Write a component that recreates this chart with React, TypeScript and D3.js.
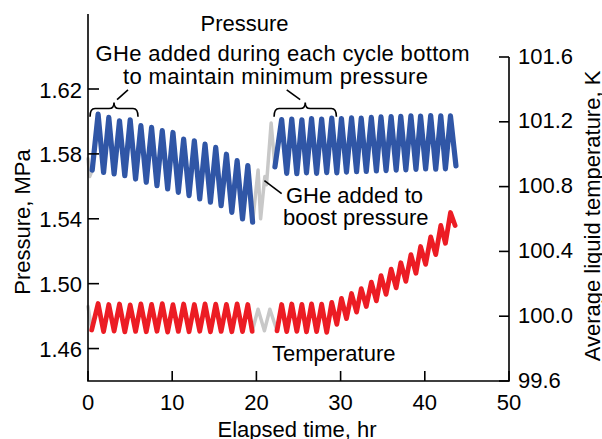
import React from "react";
import * as d3 from "d3";

// ---- Data ----
const timeTicks = [0, 10, 20, 30, 40, 50];
const pressureTicks = [1.46, 1.5, 1.54, 1.58, 1.62];
const tempTicks = [99.6, 100.0, 100.4, 100.8, 101.2, 101.6];

// Pressure, MPa: [elapsed hr, value]
const pressureGrayA: [number, number][] = [[0, 1.577], [0.2, 1.566], [0.5, 1.57]];
const pressureBlueA: [number, number][] = [
  [0.5, 1.57], [1.2, 1.6045], [1.85, 1.5686], [2.47, 1.6025], [3.1, 1.5676], [3.74, 1.6004],
  [4.37, 1.5666], [5.01, 1.601], [5.65, 1.5645], [6.28, 1.5974], [6.92, 1.5625], [7.55, 1.5963],
  [8.19, 1.5604], [8.82, 1.5943], [9.46, 1.5584], [10.09, 1.5932], [10.73, 1.5563], [11.36, 1.5891],
  [12.0, 1.5543], [12.63, 1.5881], [13.27, 1.5522], [13.9, 1.586], [14.54, 1.5502], [15.17, 1.584],
  [15.81, 1.5481], [16.44, 1.5798], [17.08, 1.544], [17.71, 1.5758], [18.35, 1.5399], [18.98, 1.5728],
  [19.55, 1.5379],
];
const pressureGrayB: [number, number][] = [
  [19.55, 1.5379], [20.2, 1.57], [20.5, 1.54], [21.0, 1.566], [21.2, 1.561], [21.75, 1.599], [22.2, 1.572],
];
const pressureBlueB: [number, number][] = [
  [22.2, 1.572], [23.0, 1.6012], [23.6, 1.568], [24.2, 1.6015], [24.8, 1.5678], [25.4, 1.601],
  [25.95, 1.5683], [26.55, 1.6018], [27.15, 1.568], [27.75, 1.6015], [28.35, 1.5685], [28.95, 1.602],
  [29.55, 1.5683], [30.1, 1.6018], [30.7, 1.5688], [31.3, 1.6022], [31.9, 1.569], [32.45, 1.602],
  [33.05, 1.5692], [33.65, 1.6025], [34.25, 1.5695], [34.8, 1.6028], [35.4, 1.5697], [36.0, 1.603],
  [36.6, 1.57], [37.15, 1.6032], [37.75, 1.5702], [38.35, 1.6035], [38.95, 1.5705], [39.5, 1.6033],
  [40.1, 1.5707], [40.7, 1.6036], [41.3, 1.5706], [41.9, 1.6035], [42.45, 1.5708], [43.05, 1.6034],
  [43.7, 1.5726],
];

// Average liquid temperature, K: [elapsed hr, value]
const tempGrayA: [number, number][] = [[0, 100.06], [0.44, 99.915]];
const tempRedA: [number, number][] = [
  [0.44, 99.915], [1.2, 100.078], [1.85, 99.905], [2.47, 100.072], [3.1, 99.908], [3.74, 100.075],
  [4.37, 99.903], [5.01, 100.07], [5.65, 99.906], [6.28, 100.076], [6.92, 99.904], [7.55, 100.073],
  [8.19, 99.907], [8.82, 100.077], [9.46, 99.902], [10.09, 100.071], [10.73, 99.906], [11.36, 100.075],
  [12.0, 99.904], [12.63, 100.072], [13.27, 99.907], [13.9, 100.076], [14.54, 99.903], [15.17, 100.074],
  [15.81, 99.906], [16.44, 100.073], [17.08, 99.904], [17.71, 100.076], [18.35, 99.905], [18.98, 100.072],
  [19.5, 99.907],
];
const tempGrayB: [number, number][] = [
  [19.5, 99.907], [20.2, 100.043], [20.95, 99.91], [21.6, 100.043], [22.45, 99.91],
];
const tempRedB: [number, number][] = [
  [22.45, 99.91], [23.0, 100.072], [23.6, 99.905], [24.2, 100.075], [24.8, 99.906], [25.4, 100.073],
  [25.95, 99.903], [26.55, 100.076], [27.15, 99.905], [27.75, 100.074], [28.35, 99.9], [28.95, 100.085],
  [29.55, 99.95], [30.1, 100.11], [30.7, 99.985], [31.3, 100.14], [31.9, 100.025], [32.45, 100.17],
  [33.05, 100.06], [33.65, 100.21], [34.25, 100.095], [34.8, 100.25], [35.4, 100.135], [36.0, 100.29],
  [36.6, 100.175], [37.15, 100.33], [37.75, 100.215], [38.35, 100.38], [38.95, 100.265], [39.5, 100.43],
  [40.1, 100.32], [40.7, 100.49], [41.3, 100.38], [41.9, 100.56], [42.45, 100.45], [43.05, 100.64],
  [43.6, 100.56],
];

// Annotation anchors (hr)
const braceSpans: [number, number][] = [[0.24, 5.94], [22.1, 29.5]];

const W = 602;
const H = 439;
const FONT = "'Liberation Sans', Arial, Helvetica, sans-serif";
const FS = 22;
const BLUE = "#3056a6";
const RED = "#ec1c24";
const GRAY = "#c8c8c8";

export default function App() {
  const x = d3.scaleLinear().domain([0, 50]).range([88, 509]);
  const yP = d3.scaleLinear().domain([1.44, 1.62]).range([381, 89]);
  const yT = d3.scaleLinear().domain([99.6, 101.6]).range([381, 57]);

  const lineP = d3.line<[number, number]>().x((d) => x(d[0])).y((d) => yP(d[1]));
  const lineT = d3.line<[number, number]>().x((d) => x(d[0])).y((d) => yT(d[1]));

  const fmtP = d3.format(".2f");
  const fmtT = d3.format(".1f");

  const brace = (t1: number, t2: number) => {
    const x1 = x(t1), x2 = x(t2), xc = (x1 + x2) / 2;
    const yb = yP(1.6029), ym = yP(1.608), yt = yP(1.6117);
    const r = 5;
    return `M${x1},${yb} Q${x1},${ym} ${x1 + r},${ym} L${xc - r},${ym} Q${xc},${ym} ${xc},${yt} Q${xc},${ym} ${xc + r},${ym} L${x2 - r},${ym} Q${x2},${ym} ${x2},${yb}`;
  };

  const xAxisY = yP(1.44);
  const leftTop = 14;
  const rightTop = yT(101.6);

  return (
    <svg width={W} height={H} style={{ position: "absolute", left: 0, top: 0, background: "#fff" }} fontFamily={FONT}>
      {/* data lines */}
      <g fill="none" strokeLinejoin="round" strokeLinecap="round">
        <path d={lineP(pressureGrayA) || ""} stroke={GRAY} strokeWidth={3.5} />
        <path d={lineP(pressureGrayB) || ""} stroke={GRAY} strokeWidth={3.5} />
        <path d={lineT(tempGrayA) || ""} stroke={GRAY} strokeWidth={3.5} />
        <path d={lineT(tempGrayB) || ""} stroke={GRAY} strokeWidth={3.5} />
        <path d={lineP(pressureBlueA) || ""} stroke={BLUE} strokeWidth={5.2} />
        <path d={lineP(pressureBlueB) || ""} stroke={BLUE} strokeWidth={5.2} />
        <path d={lineT(tempRedA) || ""} stroke={RED} strokeWidth={4.8} />
        <path d={lineT(tempRedB) || ""} stroke={RED} strokeWidth={4.8} />
      </g>

      {/* axes */}
      <g stroke="#000" strokeWidth={1.6} fill="none">
        <path d={`M${x(0)},${leftTop} V${xAxisY} H${x(50)} V${rightTop}`} />
        {pressureTicks.map((v) => (
          <line key={"pt" + v} x1={x(0)} x2={x(0) + 11} y1={yP(v)} y2={yP(v)} />
        ))}
        {tempTicks.map((v) => (
          <line key={"tt" + v} x1={x(50) - 10} x2={x(50)} y1={yT(v)} y2={yT(v)} />
        ))}
        {timeTicks.map((v) => (
          <line key={"xt" + v} x1={x(v)} x2={x(v)} y1={xAxisY} y2={xAxisY - 10} />
        ))}
      </g>

      {/* tick labels */}
      <g fontSize={FS} fill="#000">
        {pressureTicks.map((v) => (
          <text key={"pl" + v} x={x(0) - 6} y={yP(v) + 1} textAnchor="end" dominantBaseline="central">
            {fmtP(v)}
          </text>
        ))}
        {tempTicks.map((v) => (
          <text key={"tl" + v} x={x(50) + 9} y={yT(v) - 1} textAnchor="start" dominantBaseline="central">
            {fmtT(v)}
          </text>
        ))}
        {timeTicks.map((v) => (
          <text key={"xl" + v} x={x(v)} y={410} textAnchor="middle">
            {v}
          </text>
        ))}
      </g>

      {/* axis titles */}
      <g fontSize={FS} fill="#000">
        <text x={297} y={437} textAnchor="middle">Elapsed time, hr</text>
        <text transform={`translate(30,222) rotate(-90)`} textAnchor="middle">Pressure, MPa</text>
        <text transform={`translate(600,216) rotate(-90)`} textAnchor="middle">Average liquid temperature, K</text>
      </g>

      {/* annotations */}
      <g fontSize={FS} fill="#000">
        <text x={244.5} y={31} textAnchor="middle">Pressure</text>
        <text x={282.5} y={61} textAnchor="middle" textLength={374}>GHe added during each cycle bottom</text>
        <text x={275.5} y={84} textAnchor="middle" textLength={305}>to maintain minimum pressure</text>
        <text x={286} y={203}>GHe added to</text>
        <text x={283} y={225}>boost pressure</text>
        <text x={272} y={361}>Temperature</text>
      </g>
      <g stroke="#000" strokeWidth={1.6} fill="none">
        {braceSpans.map((s, i) => (
          <path key={"b" + i} d={brace(s[0], s[1])} />
        ))}
        <line x1={x(3.45)} y1={yP(1.6135)} x2={x(4.75)} y2={yP(1.6195)} />
        <line x1={x(23.6)} y1={yP(1.6195)} x2={x(25.2)} y2={yP(1.6135)} />
        <line x1={x(20.95)} y1={yP(1.5635)} x2={x(23.0)} y2={yP(1.5555)} />
      </g>
    </svg>
  );
}
